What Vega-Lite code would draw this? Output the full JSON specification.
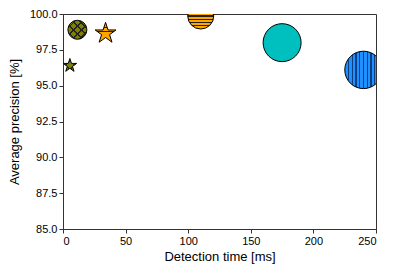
{
  "$schema": "https://vega.github.io/schema/vega-lite/v6.json",
  "width": 313,
  "height": 215,
  "autosize": "none",
  "padding": {"left": 63, "top": 14, "right": 19, "bottom": 46},
  "config": {
    "font": "Liberation Sans",
    "view": {"stroke": "#333", "strokeWidth": 1},
    "axis": {
      "grid": false,
      "domainColor": "#333",
      "tickColor": "#333",
      "tickSize": 4,
      "labelFontSize": 11,
      "labelColor": "black",
      "titleFontSize": 13,
      "titleFontWeight": "normal",
      "titleColor": "black",
      "labelPadding": 2
    },
    "text": {"fontSize": 11, "fill": "black", "align": "left", "baseline": "middle"}
  },
  "data": {
    "values": [
      {"method": "Segmentation net with decision net (our)", "resolution": "1408x512 px", "time": 110, "ap": 99.86},
      {"method": "Segmentation net with decision net (our)", "resolution": "704x256 px", "time": 34, "ap": 98.65},
      {"method": "Cognex ViDi Suite", "resolution": "1408x512 px", "time": 11.5, "ap": 98.9},
      {"method": "Cognex ViDi Suite", "resolution": "704x256 px", "time": 5.5, "ap": 96.4},
      {"method": "DeepLab v3+ [Chen2018]", "resolution": "1408x512 px", "time": 175, "ap": 98.0},
      {"method": "U-Net [Ronneberger2015]", "resolution": "1408x512 px", "time": 240, "ap": 96.1}
    ]
  },
  "encoding": {
    "x": {"field": "time", "type": "quantitative", "scale": {"domain": [0, 250], "nice": false}, "axis": {"values": [0, 50, 100, 150, 200, 250], "title": "Detection time [ms]", "titlePadding": 4}},
    "y": {"field": "ap", "type": "quantitative", "scale": {"domain": [85, 100], "nice": false, "zero": false}, "axis": {"values": [85, 87.5, 90, 92.5, 95, 97.5, 100], "format": ".1f", "title": "Average precision [%]", "titlePadding": 8}}
  },
  "layer": [
    {
      "transform": [{"filter": "datum.method == 'Segmentation net with decision net (our)' && datum.resolution == '1408x512 px'"}],
      "mark": {"type": "point", "shape": "circle", "size": 676, "clip": true, "stroke": "black", "strokeWidth": 1, "opacity": 1,
        "fill": {"gradient": "linear", "x1": 0, "y1": 0, "x2": 0, "y2": 1, "stops": [
          {"offset": 0, "color": "#FFA500"},
          {"offset": 0.105, "color": "#FFA500"}, {"offset": 0.105, "color": "#222"}, {"offset": 0.145, "color": "#222"}, {"offset": 0.145, "color": "#FFA500"},
          {"offset": 0.23, "color": "#FFA500"}, {"offset": 0.23, "color": "#222"}, {"offset": 0.27, "color": "#222"}, {"offset": 0.27, "color": "#FFA500"},
          {"offset": 0.355, "color": "#FFA500"}, {"offset": 0.355, "color": "#222"}, {"offset": 0.395, "color": "#222"}, {"offset": 0.395, "color": "#FFA500"},
          {"offset": 0.48, "color": "#FFA500"}, {"offset": 0.48, "color": "#222"}, {"offset": 0.52, "color": "#222"}, {"offset": 0.52, "color": "#FFA500"},
          {"offset": 0.605, "color": "#FFA500"}, {"offset": 0.605, "color": "#222"}, {"offset": 0.645, "color": "#222"}, {"offset": 0.645, "color": "#FFA500"},
          {"offset": 0.73, "color": "#FFA500"}, {"offset": 0.73, "color": "#222"}, {"offset": 0.77, "color": "#222"}, {"offset": 0.77, "color": "#FFA500"},
          {"offset": 0.855, "color": "#FFA500"}, {"offset": 0.855, "color": "#222"}, {"offset": 0.895, "color": "#222"}, {"offset": 0.895, "color": "#FFA500"},
          {"offset": 1, "color": "#FFA500"}
        ]}},
      "encoding": {}
    },
    {
      "transform": [{"filter": "datum.method == 'Segmentation net with decision net (our)' && datum.resolution == '704x256 px'"}],
      "mark": {"type": "point", "shape": "M0,-1L0.2245,-0.309L0.9511,-0.309L0.3633,0.118L0.5878,0.809L0,0.382L-0.5878,0.809L-0.3633,0.118L-0.9511,-0.309L-0.2245,-0.309Z", "size": 480, "clip": true, "stroke": "black", "strokeWidth": 1, "opacity": 1,
        "fill": {"gradient": "linear", "x1": 0, "y1": 0, "x2": 0, "y2": 1, "stops": [
          {"offset": 0, "color": "#FFA500"},
          {"offset": 0.22, "color": "#FFA500"}, {"offset": 0.22, "color": "#222"}, {"offset": 0.26, "color": "#222"}, {"offset": 0.26, "color": "#FFA500"},
          {"offset": 0.42, "color": "#FFA500"}, {"offset": 0.42, "color": "#222"}, {"offset": 0.46, "color": "#222"}, {"offset": 0.46, "color": "#FFA500"},
          {"offset": 0.62, "color": "#FFA500"}, {"offset": 0.62, "color": "#222"}, {"offset": 0.66, "color": "#222"}, {"offset": 0.66, "color": "#FFA500"},
          {"offset": 0.82, "color": "#FFA500"}, {"offset": 0.82, "color": "#222"}, {"offset": 0.86, "color": "#222"}, {"offset": 0.86, "color": "#FFA500"},
          {"offset": 1, "color": "#FFA500"}
        ]}},
      "encoding": {}
    },
    {
      "transform": [{"filter": "datum.method == 'Cognex ViDi Suite' && datum.resolution == '1408x512 px'"}],
      "mark": {"type": "point", "shape": "circle", "size": 361, "clip": true, "stroke": "black", "strokeWidth": 1, "opacity": 1,
        "fill": {"gradient": "linear", "x1": 0, "y1": 0, "x2": 1, "y2": 1, "stops": [
          {"offset": 0, "color": "#808000"},
          {"offset": 0.18, "color": "#808000"}, {"offset": 0.18, "color": "#222"}, {"offset": 0.23, "color": "#222"}, {"offset": 0.23, "color": "#808000"},
          {"offset": 0.38, "color": "#808000"}, {"offset": 0.38, "color": "#222"}, {"offset": 0.43, "color": "#222"}, {"offset": 0.43, "color": "#808000"},
          {"offset": 0.58, "color": "#808000"}, {"offset": 0.58, "color": "#222"}, {"offset": 0.63, "color": "#222"}, {"offset": 0.63, "color": "#808000"},
          {"offset": 0.78, "color": "#808000"}, {"offset": 0.78, "color": "#222"}, {"offset": 0.83, "color": "#222"}, {"offset": 0.83, "color": "#808000"},
          {"offset": 1, "color": "#808000"}
        ]}},
      "encoding": {}
    },
    {
      "transform": [{"filter": "datum.method == 'Cognex ViDi Suite' && datum.resolution == '1408x512 px'"}],
      "mark": {"type": "point", "shape": "circle", "size": 361, "clip": true, "strokeWidth": 0, "opacity": 1,
        "fill": {"gradient": "linear", "x1": 1, "y1": 0, "x2": 0, "y2": 1, "stops": [
          {"offset": 0, "color": "rgba(0,0,0,0)"},
          {"offset": 0.18, "color": "rgba(0,0,0,0)"}, {"offset": 0.18, "color": "#222"}, {"offset": 0.23, "color": "#222"}, {"offset": 0.23, "color": "rgba(0,0,0,0)"},
          {"offset": 0.38, "color": "rgba(0,0,0,0)"}, {"offset": 0.38, "color": "#222"}, {"offset": 0.43, "color": "#222"}, {"offset": 0.43, "color": "rgba(0,0,0,0)"},
          {"offset": 0.58, "color": "rgba(0,0,0,0)"}, {"offset": 0.58, "color": "#222"}, {"offset": 0.63, "color": "#222"}, {"offset": 0.63, "color": "rgba(0,0,0,0)"},
          {"offset": 0.78, "color": "rgba(0,0,0,0)"}, {"offset": 0.78, "color": "#222"}, {"offset": 0.83, "color": "#222"}, {"offset": 0.83, "color": "rgba(0,0,0,0)"},
          {"offset": 1, "color": "rgba(0,0,0,0)"}
        ]}},
      "encoding": {}
    },
    {
      "transform": [{"filter": "datum.method == 'Cognex ViDi Suite' && datum.resolution == '704x256 px'"}],
      "mark": {"type": "point", "shape": "M0,-1L0.2245,-0.309L0.9511,-0.309L0.3633,0.118L0.5878,0.809L0,0.382L-0.5878,0.809L-0.3633,0.118L-0.9511,-0.309L-0.2245,-0.309Z", "size": 200, "clip": true, "stroke": "black", "strokeWidth": 1, "opacity": 1,
        "fill": {"gradient": "linear", "x1": 0, "y1": 0, "x2": 1, "y2": 1, "stops": [
          {"offset": 0, "color": "#808000"},
          {"offset": 0.3, "color": "#808000"}, {"offset": 0.3, "color": "#222"}, {"offset": 0.36, "color": "#222"}, {"offset": 0.36, "color": "#808000"},
          {"offset": 0.64, "color": "#808000"}, {"offset": 0.64, "color": "#222"}, {"offset": 0.7, "color": "#222"}, {"offset": 0.7, "color": "#808000"},
          {"offset": 1, "color": "#808000"}
        ]}},
      "encoding": {}
    },
    {
      "transform": [{"filter": "datum.method == 'Cognex ViDi Suite' && datum.resolution == '704x256 px'"}],
      "mark": {"type": "point", "shape": "M0,-1L0.2245,-0.309L0.9511,-0.309L0.3633,0.118L0.5878,0.809L0,0.382L-0.5878,0.809L-0.3633,0.118L-0.9511,-0.309L-0.2245,-0.309Z", "size": 200, "clip": true, "strokeWidth": 0, "opacity": 1,
        "fill": {"gradient": "linear", "x1": 1, "y1": 0, "x2": 0, "y2": 1, "stops": [
          {"offset": 0, "color": "rgba(0,0,0,0)"},
          {"offset": 0.3, "color": "rgba(0,0,0,0)"}, {"offset": 0.3, "color": "#222"}, {"offset": 0.36, "color": "#222"}, {"offset": 0.36, "color": "rgba(0,0,0,0)"},
          {"offset": 0.64, "color": "rgba(0,0,0,0)"}, {"offset": 0.64, "color": "#222"}, {"offset": 0.7, "color": "#222"}, {"offset": 0.7, "color": "rgba(0,0,0,0)"},
          {"offset": 1, "color": "rgba(0,0,0,0)"}
        ]}},
      "encoding": {}
    },
    {
      "transform": [{"filter": "datum.method == 'DeepLab v3+ [Chen2018]'"}],
      "mark": {"type": "point", "shape": "circle", "size": 1444, "clip": true, "stroke": "black", "strokeWidth": 1, "opacity": 1, "fill": "#00BFBF"},
      "encoding": {}
    },
    {
      "transform": [{"filter": "datum.method == 'U-Net [Ronneberger2015]'"}],
      "mark": {"type": "point", "shape": "circle", "size": 1400, "clip": true, "stroke": "black", "strokeWidth": 1, "opacity": 1,
        "fill": {"gradient": "linear", "x1": 0, "y1": 0, "x2": 1, "y2": 0, "stops": [
          {"offset": 0, "color": "#1E90FF"},
          {"offset": 0.085, "color": "#1E90FF"}, {"offset": 0.085, "color": "#0d3f80"}, {"offset": 0.115, "color": "#0d3f80"}, {"offset": 0.115, "color": "#1E90FF"},
          {"offset": 0.185, "color": "#1E90FF"}, {"offset": 0.185, "color": "#0d3f80"}, {"offset": 0.215, "color": "#0d3f80"}, {"offset": 0.215, "color": "#1E90FF"},
          {"offset": 0.285, "color": "#1E90FF"}, {"offset": 0.285, "color": "#0d3f80"}, {"offset": 0.315, "color": "#0d3f80"}, {"offset": 0.315, "color": "#1E90FF"},
          {"offset": 0.385, "color": "#1E90FF"}, {"offset": 0.385, "color": "#0d3f80"}, {"offset": 0.415, "color": "#0d3f80"}, {"offset": 0.415, "color": "#1E90FF"},
          {"offset": 0.485, "color": "#1E90FF"}, {"offset": 0.485, "color": "#0d3f80"}, {"offset": 0.515, "color": "#0d3f80"}, {"offset": 0.515, "color": "#1E90FF"},
          {"offset": 0.585, "color": "#1E90FF"}, {"offset": 0.585, "color": "#0d3f80"}, {"offset": 0.615, "color": "#0d3f80"}, {"offset": 0.615, "color": "#1E90FF"},
          {"offset": 0.685, "color": "#1E90FF"}, {"offset": 0.685, "color": "#0d3f80"}, {"offset": 0.715, "color": "#0d3f80"}, {"offset": 0.715, "color": "#1E90FF"},
          {"offset": 0.785, "color": "#1E90FF"}, {"offset": 0.785, "color": "#0d3f80"}, {"offset": 0.815, "color": "#0d3f80"}, {"offset": 0.815, "color": "#1E90FF"},
          {"offset": 0.885, "color": "#1E90FF"}, {"offset": 0.885, "color": "#0d3f80"}, {"offset": 0.915, "color": "#0d3f80"}, {"offset": 0.915, "color": "#1E90FF"},
          {"offset": 1, "color": "#1E90FF"}
        ]}},
      "encoding": {}
    },
    {
      "data": {"values": [{}]},
      "mark": {"type": "point", "shape": "circle", "size": 115, "stroke": "black", "strokeWidth": 1, "opacity": 1,
        "fill": {"gradient": "linear", "x1": 0, "y1": 0, "x2": 0, "y2": 1, "stops": [
          {"offset": 0, "color": "#FFA500"},
          {"offset": 0.2, "color": "#FFA500"}, {"offset": 0.2, "color": "#333"}, {"offset": 0.28, "color": "#333"}, {"offset": 0.28, "color": "#FFA500"},
          {"offset": 0.46, "color": "#FFA500"}, {"offset": 0.46, "color": "#333"}, {"offset": 0.54, "color": "#333"}, {"offset": 0.54, "color": "#FFA500"},
          {"offset": 0.72, "color": "#FFA500"}, {"offset": 0.72, "color": "#333"}, {"offset": 0.8, "color": "#333"}, {"offset": 0.8, "color": "#FFA500"},
          {"offset": 1, "color": "#FFA500"}
        ]}},
      "encoding": {"x": {"datum": 16.5}, "y": {"datum": 89.63}}
    },
    {
      "data": {"values": [{}]},
      "mark": {"type": "point", "shape": "circle", "size": 115, "stroke": "black", "strokeWidth": 1, "opacity": 1,
        "fill": {"gradient": "linear", "x1": 0, "y1": 0, "x2": 1, "y2": 1, "stops": [
          {"offset": 0, "color": "#808000"},
          {"offset": 0.3, "color": "#808000"}, {"offset": 0.3, "color": "#333"}, {"offset": 0.38, "color": "#333"}, {"offset": 0.38, "color": "#808000"},
          {"offset": 0.62, "color": "#808000"}, {"offset": 0.62, "color": "#333"}, {"offset": 0.7, "color": "#333"}, {"offset": 0.7, "color": "#808000"},
          {"offset": 1, "color": "#808000"}
        ]}},
      "encoding": {"x": {"datum": 16.5}, "y": {"datum": 88.23}}
    },
    {
      "data": {"values": [{}]},
      "mark": {"type": "point", "shape": "circle", "size": 115, "strokeWidth": 0, "opacity": 1,
        "fill": {"gradient": "linear", "x1": 1, "y1": 0, "x2": 0, "y2": 1, "stops": [
          {"offset": 0, "color": "rgba(0,0,0,0)"},
          {"offset": 0.3, "color": "rgba(0,0,0,0)"}, {"offset": 0.3, "color": "#333"}, {"offset": 0.38, "color": "#333"}, {"offset": 0.38, "color": "rgba(0,0,0,0)"},
          {"offset": 0.62, "color": "rgba(0,0,0,0)"}, {"offset": 0.62, "color": "#333"}, {"offset": 0.7, "color": "#333"}, {"offset": 0.7, "color": "rgba(0,0,0,0)"},
          {"offset": 1, "color": "rgba(0,0,0,0)"}
        ]}},
      "encoding": {"x": {"datum": 16.5}, "y": {"datum": 88.23}}
    },
    {
      "data": {"values": [{}]},
      "mark": {"type": "point", "shape": "circle", "size": 115, "stroke": "black", "strokeWidth": 1, "opacity": 1, "fill": "#00BFBF"},
      "encoding": {"x": {"datum": 16.5}, "y": {"datum": 87.18}}
    },
    {
      "data": {"values": [{}]},
      "mark": {"type": "point", "shape": "circle", "size": 115, "stroke": "black", "strokeWidth": 1, "opacity": 1,
        "fill": {"gradient": "linear", "x1": 0, "y1": 0, "x2": 1, "y2": 0, "stops": [
          {"offset": 0, "color": "#1E90FF"},
          {"offset": 0.3, "color": "#1E90FF"}, {"offset": 0.3, "color": "#0d3f80"}, {"offset": 0.38, "color": "#0d3f80"}, {"offset": 0.38, "color": "#1E90FF"},
          {"offset": 0.62, "color": "#1E90FF"}, {"offset": 0.62, "color": "#0d3f80"}, {"offset": 0.7, "color": "#0d3f80"}, {"offset": 0.7, "color": "#1E90FF"},
          {"offset": 1, "color": "#1E90FF"}
        ]}},
      "encoding": {"x": {"datum": 16.5}, "y": {"datum": 86.09}}
    },
    {
      "data": {"values": [{}]},
      "mark": {"type": "point", "shape": "circle", "size": 175, "stroke": "black", "strokeWidth": 1.2, "opacity": 1, "fill": "white"},
      "encoding": {"x": {"datum": 175.2}, "y": {"datum": 87.07}}
    },
    {
      "data": {"values": [{}]},
      "mark": {"type": "point", "shape": "M0,-1L0.2245,-0.309L0.9511,-0.309L0.3633,0.118L0.5878,0.809L0,0.382L-0.5878,0.809L-0.3633,0.118L-0.9511,-0.309L-0.2245,-0.309Z", "size": 190, "stroke": "black", "strokeWidth": 1.2, "opacity": 1, "fill": "white"},
      "encoding": {"x": {"datum": 175.2}, "y": {"datum": 86.05}}
    },
    {
      "data": {"values": [{}]},
      "mark": {"type": "text", "text": "Segmentation net with"},
      "encoding": {"x": {"datum": 33.3}, "y": {"datum": 90.13}}
    },
    {
      "data": {"values": [{}]},
      "mark": {"type": "text", "text": "decision net (our)"},
      "encoding": {"x": {"datum": 33.3}, "y": {"datum": 89.33}}
    },
    {
      "data": {"values": [{}]},
      "mark": {"type": "text", "text": "Cognex ViDi Suite"},
      "encoding": {"x": {"datum": 33.3}, "y": {"datum": 88.23}}
    },
    {
      "data": {"values": [{}]},
      "mark": {"type": "text", "text": "DeepLab v3+ [Chen2018]"},
      "encoding": {"x": {"datum": 33.3}, "y": {"datum": 87.18}}
    },
    {
      "data": {"values": [{}]},
      "mark": {"type": "text", "text": "U-Net [Ronneberger2015]"},
      "encoding": {"x": {"datum": 33.3}, "y": {"datum": 86.09}}
    },
    {
      "data": {"values": [{}]},
      "mark": {"type": "text", "text": "1408x512 px"},
      "encoding": {"x": {"datum": 191.5}, "y": {"datum": 87.07}}
    },
    {
      "data": {"values": [{}]},
      "mark": {"type": "text", "text": "704x256 px"},
      "encoding": {"x": {"datum": 191.5}, "y": {"datum": 86.05}}
    }
  ]
}
